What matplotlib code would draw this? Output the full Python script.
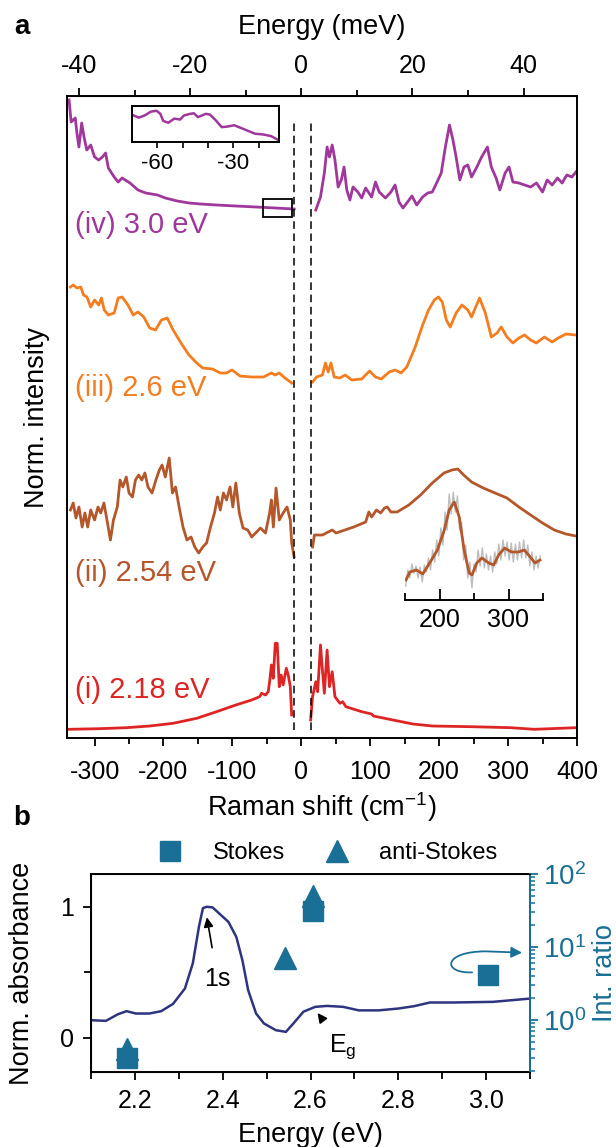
import numpy as np
import matplotlib
matplotlib.use("Agg")
from matplotlib import pyplot as plt
from matplotlib.lines import Line2D
from matplotlib.patches import Rectangle, FancyArrowPatch
from matplotlib.path import Path
from matplotlib.ticker import MultipleLocator, FixedLocator, LogLocator, NullFormatter

plt.rcParams['font.family'] = ['Liberation Sans', 'DejaVu Sans']
plt.rcParams['mathtext.fontset'] = 'custom'
plt.rcParams['mathtext.rm'] = 'Liberation Sans'
plt.rcParams['axes.unicode_minus'] = False

# ---- panel a data (Raman shift in cm-1, stacked norm. intensity) ----
# (iv) 3.0 eV
iv_as_x = [-337, -334, -328, -325.6, -322.7, -318.7, -315.3, -311.3, -305.6, -300, -294, -288.6, -284, -280,
           -271.5, -265.8, -260, -248.6, -237, -225.8, -208.7, -197.3, -180, -163, -146, -123, -95, -66, -38, -10.4]
iv_as_y = [6.38, 6.16, 6.2, 6.05, 5.91, 6.15, 6.01, 5.88, 5.93, 5.81, 5.78, 5.81, 5.85, 5.70,
           5.61, 5.56, 5.6, 5.55, 5.48, 5.45, 5.43, 5.40, 5.37, 5.35, 5.34, 5.33, 5.32, 5.31, 5.30, 5.29]
iv_s_x = [21, 27.8, 33.4, 37.4, 40.8, 44.8, 48.8, 53.4, 58, 62, 66, 70.5, 75, 82, 87.6, 93.3, 102, 107.6, 113,
          122, 130, 136, 141.8, 147.5, 153, 160.5, 167.4, 176, 183.4, 190, 197, 203, 209, 215, 220, 224.6, 230,
          236, 241.6, 247, 254.7, 261.6, 270, 275.7, 282.6, 288, 295.7, 301.4, 307, 315.7, 324, 332.7, 341.2,
          350, 356.7, 364, 371.6, 378.4, 385.2, 392.6, 398.4]
iv_s_y = [5.28, 5.41, 5.65, 5.91, 5.81, 5.93, 5.78, 5.51, 5.58, 5.71, 5.48, 5.38, 5.51, 5.46, 5.40, 5.50, 5.41,
          5.56, 5.46, 5.40, 5.46, 5.53, 5.36, 5.30, 5.35, 5.42, 5.33, 5.41, 5.45, 5.46, 5.56, 5.65, 5.91, 6.13,
          5.98, 5.81, 5.58, 5.71, 5.73, 5.61, 5.71, 5.81, 5.91, 5.71, 5.60, 5.48, 5.65, 5.71, 5.56, 5.55, 5.53,
          5.51, 5.55, 5.46, 5.58, 5.53, 5.60, 5.55, 5.63, 5.61, 5.66]

# (iii) 2.6 eV
iii_as_x = [-335, -331, -325.6, -320, -316, -311, -305.6, -300, -294, -290, -286, -280, -271.5, -265.8, -260,
            -251.5, -244, -237, -228.6, -220, -211.5, -203, -194.5, -186, -174.6, -163, -151.7, -143, -129,
            -117.6, -109, -100.5, -89, -72, -55, -43.5, -38, -32, -23.7, -14]
iii_as_y = [4.51, 4.53, 4.50, 4.51, 4.43, 4.41, 4.31, 4.38, 4.33, 4.40, 4.28, 4.23, 4.25, 4.40, 4.41,
            4.33, 4.23, 4.26, 4.21, 4.10, 4.08, 4.18, 4.20, 4.08, 3.95, 3.83, 3.75, 3.70, 3.69,
            3.65, 3.65, 3.68, 3.62, 3.61, 3.61, 3.65, 3.63, 3.65, 3.60, 3.55]
iii_s_x = [16.3, 22, 30.6, 35, 39, 43, 47.7, 56, 63.6, 73.3, 87.6, 99, 107.6, 116, 127.6, 136, 144.7, 153,
           164.7, 176, 184.6, 193, 199, 204.6, 210.4, 216, 224.6, 233, 241.6, 247, 253, 258.6, 267, 275.7,
           284, 290, 298.4, 307, 315.7, 324, 332.7, 341, 352.7, 364, 372.7, 384, 398.4]
iii_s_y = [3.56, 3.61, 3.63, 3.75, 3.66, 3.75, 3.61, 3.60, 3.63, 3.58, 3.59, 3.67, 3.61, 3.59, 3.66, 3.68,
           3.65, 3.71, 3.90, 4.13, 4.28, 4.38, 4.41, 4.36, 4.18, 4.11, 4.25, 4.33, 4.28, 4.21, 4.31, 4.40,
           4.25, 4.01, 4.05, 4.11, 4.01, 3.95, 4.00, 4.03, 3.98, 3.95, 4.01, 3.96, 4.00, 4.04, 4.03]

# (ii) 2.54 eV
ii_as_x = [-335, -331, -327, -322.7, -318, -314, -310, -305.6, -300, -295, -291, -286.4, -282, -277, -272.6,
           -267, -263, -259, -254, -250, -245, -240.7, -236, -231.5, -227, -222.5, -216.6, -211, -206, -202,
           -197.4, -191.7, -187, -182.5, -177.3, -171.7, -166, -160, -154.6, -148.9, -143, -137.5, -131.8,
           -126, -121.5, -117.6, -113, -108.5, -103.4, -99.4, -95, -90, -84.6, -77.7, -72, -65, -59.4, -52,
           -46, -43.5, -40.6, -36.7, -32, -26.4, -20.7, -16, -14, -10.4]
ii_as_y = [2.28, 2.35, 2.20, 2.31, 2.11, 2.25, 2.11, 2.28, 2.18, 2.31, 2.25, 2.35, 2.18, 1.98, 2.18,
           2.31, 2.58, 2.51, 2.61, 2.45, 2.41, 2.58, 2.63, 2.58, 2.65, 2.51, 2.45, 2.58, 2.68, 2.73,
           2.61, 2.80, 2.45, 2.51, 2.31, 2.11, 1.98, 2.01, 1.91, 1.85, 1.91, 1.95, 2.11,
           2.25, 2.41, 2.28, 2.45, 2.38, 2.51, 2.31, 2.55, 2.25, 2.10, 2.08, 2.01, 2.06, 2.10, 2.05,
           2.25, 2.38, 2.11, 2.50, 2.18, 2.25, 2.31, 2.18, 1.95, 1.81]
ii_s_x = [16.3, 19, 30.6, 39, 44.8, 50.5, 59, 76, 93.3, 98, 102, 109, 115, 120.7, 124.7, 130, 139, 156, 173,
          190, 207, 218.6, 227, 235.6, 247, 264, 281, 298.4, 315.7, 332.7, 350, 367, 384, 398.4]
ii_s_y = [1.91, 2.03, 2.03, 2.06, 2.08, 2.05, 2.07, 2.11, 2.16, 2.26, 2.21, 2.28, 2.25, 2.30, 2.31, 2.26,
          2.26, 2.33, 2.43, 2.55, 2.65, 2.68, 2.69, 2.63, 2.56, 2.50, 2.45, 2.40, 2.31, 2.23, 2.15, 2.08,
          2.04, 2.02]

# (i) 2.18 eV
i_as_x = [-337, -293.5, -254, -220, -186, -151.7, -123, -95, -72, -60.5, -57.7, -52, -48, -45.7, -43.4,
          -40.7, -37.8, -35, -32, -29.3, -26.4, -21.8, -19, -16, -14]
i_as_y = [0.087, 0.093, 0.103, 0.12, 0.147, 0.197, 0.263, 0.33, 0.38, 0.413, 0.447, 0.43, 0.463, 0.58, 0.73,
          0.597, 0.947, 0.947, 0.513, 0.63, 0.53, 0.697, 0.63, 0.513, 0.23]
i_s_x = [13.5, 16.3, 21, 23.7, 27.8, 30.6, 33.4, 37.4, 40.8, 44.8, 48.8, 56, 60, 64.7, 87.6, 102, 104.6, 133,
         161.7, 190, 247, 304, 338, 398.4]
i_s_y = [0.18, 0.413, 0.563, 0.463, 0.93, 0.68, 0.447, 0.88, 0.513, 0.663, 0.413, 0.347, 0.363, 0.313, 0.263,
         0.24, 0.22, 0.18, 0.14, 0.12, 0.113, 0.103, 0.087, 0.103]

# inset of (iv): low-energy anti-Stokes tail
ins_iv_x = [-69.3, -67.3, -65, -62.6, -60.3, -58.8, -57.7, -55.7, -53.3, -51, -49.5, -47.1, -45.6, -44, -42.4,
            -40.9, -39.3, -37, -34.6, -32.3, -29.7, -26.9, -23.8, -21.4, -18.4, -15.2, -12.9, -11.7]
ins_iv_y = [27, 24.7, 27, 31, 32, 28.7, 21.3, 19.3, 23.7, 22.7, 27, 28.7, 29.3, 25.3, 27, 28.7, 28, 22, 14.7,
            15.3, 16.7, 13.7, 10.3, 7.7, 7, 5.3, 2, 0.3]

# inset of (ii): raw (grey) and smoothed (brown)
ins_ii_raw_x = list(range(151, 347, 3))
ins_ii_raw_y = [14, 30, 22, 36, 27, 34, 22, 33, 18, 35, 28, 42, 30, 50, 38, 60, 44, 72, 55, 88, 70, 106, 86,
                108, 88, 104, 70, 78, 40, 55, 22, 38, 12, 36, 28, 50, 34, 52, 32, 46, 30, 44, 28, 48, 36,
                56, 40, 60, 44, 58, 40, 57, 38, 56, 40, 58, 42, 60, 42, 55, 34, 48, 30, 44, 32, 44]
ins_ii_fit_x = [151.4, 157, 166.7, 175.7, 185.7, 197, 207, 214, 221.4, 228.6, 235.7, 243, 247, 254, 261.4,
                271.4, 278.6, 285.7, 294.3, 304.3, 314.3, 323, 331.4, 338.6, 345.7]
ins_ii_fit_y = [20, 28, 30, 26, 37, 50, 70, 90, 98, 83, 50, 27, 25, 37, 42, 37, 35, 45, 52, 48, 48, 50, 43,
                37, 40]

labels_a = ['(iv) 3.0 eV', '(iii) 2.6 eV', '(ii) 2.54 eV', '(i) 2.18 eV']
label_y = [5.13, 3.50, 1.65, 0.48]
colors_a = ['#a0379b', '#f47d20', '#b4572a', '#dd2525']

# ---- panel b data ----
abs_e = [2.100, 2.134, 2.161, 2.181, 2.202, 2.233, 2.26, 2.287, 2.314, 2.332, 2.346, 2.355, 2.364, 2.377,
         2.395, 2.413, 2.431, 2.445, 2.458, 2.476, 2.494, 2.521, 2.544, 2.561, 2.584, 2.611, 2.638, 2.674,
         2.71, 2.755, 2.80, 2.836, 2.872, 2.926, 3.016, 3.10]
abs_v = [0.135, 0.13, 0.18, 0.204, 0.186, 0.186, 0.204, 0.26, 0.377, 0.57, 0.85, 0.99, 1.0, 0.995, 0.94,
         0.885, 0.77, 0.59, 0.364, 0.186, 0.11, 0.059, 0.046, 0.11, 0.20, 0.237, 0.244, 0.237, 0.21, 0.21,
         0.224, 0.242, 0.27, 0.27, 0.275, 0.30]
stokes_e = [2.181, 2.605, 3.004]
stokes_r = [0.30, 31, 4.2]
astokes_e = [2.181, 2.541, 2.605]
astokes_r = [0.40, 7.07, 50]

teal = '#1a6f96'
navy = '#2f347f'

W, H = 616, 1147
fig = plt.figure(figsize=(W / 100, H / 100), dpi=100)


def rect(l, t, r, b):
    return [l / W, 1 - b / H, (r - l) / W, (b - t) / H]


# ================= panel a =================
ax = fig.add_axes(rect(67, 96, 577, 738))
branches = [(iv_as_x, iv_as_y, iv_s_x, iv_s_y), (iii_as_x, iii_as_y, iii_s_x, iii_s_y),
            (ii_as_x, ii_as_y, ii_s_x, ii_s_y), (i_as_x, i_as_y, i_s_x, i_s_y)]
for (ax_x, ax_y, s_x, s_y), c, lab, ly in zip(branches, colors_a, labels_a, label_y):
    ax.plot(ax_x, ax_y, color=c, lw=2.0)
    ax.plot(s_x, s_y, color=c, lw=2.0)
    ax.text(-329, ly, lab, color=c, fontsize=21, ha='left', va='center')

for xv in (-10.5, 14.5):
    ax.axvline(xv, ymin=0.012, ymax=0.96, color='k', lw=1.1, ls=(0, (5, 3)))

ax.add_patch(Rectangle((-56, 5.21), 42, 0.18, fill=False, ec='k', lw=1.3, zorder=5))

ax.set_xlim(-340, 400)
ax.set_ylim(0, 6.42)
ax.set_yticks([])
ax.xaxis.set_major_locator(MultipleLocator(100))
ax.xaxis.set_minor_locator(MultipleLocator(50))
ax.tick_params(axis='x', which='major', direction='out', length=6, width=1.3, labelsize=18, pad=10)
ax.tick_params(axis='x', which='minor', direction='out', length=4, width=1.3)
for sp in ax.spines.values():
    sp.set_linewidth(1.4)
ax.set_xlabel('Raman shift (cm$^{-1}$)', fontsize=19.5, labelpad=4)
ax.set_ylabel('Norm. intensity', fontsize=19.5, labelpad=12)

cm_per_mev = 8.0655
top = ax.secondary_xaxis('top', functions=(lambda x: x / cm_per_mev, lambda e: e * cm_per_mev))
top.xaxis.set_major_locator(FixedLocator([-40, -20, 0, 20, 40]))
top.xaxis.set_minor_locator(FixedLocator([-30, -10, 10, 30]))
top.tick_params(axis='x', which='major', direction='out', length=6, width=1.3, labelsize=18, pad=7)
top.tick_params(axis='x', which='minor', direction='out', length=4, width=1.3)
top.set_xlabel('Energy (meV)', fontsize=19.5, labelpad=14)

# inset (iv)
ia = fig.add_axes(rect(132, 106, 279, 142))
ia.plot(ins_iv_x, ins_iv_y, color=colors_a[0], lw=1.8)
ia.set_xlim(-70, -12)
ia.set_ylim(-1, 37)
ia.set_yticks([])
ia.xaxis.set_major_locator(FixedLocator([-60, -30]))
ia.xaxis.set_minor_locator(FixedLocator([-50, -40, -20]))
ia.tick_params(axis='x', which='both', direction='out', length=4, width=1.2, labelsize=16, pad=4)
for sp in ia.spines.values():
    sp.set_linewidth(1.4)

# inset (ii)
ib = fig.add_axes(rect(405, 490, 543, 600))
ib.plot(ins_ii_raw_x, ins_ii_raw_y, color='#bdbdbd', lw=1.0)
ib.plot(ins_ii_fit_x, ins_ii_fit_y, color=colors_a[2], lw=2.0)
ib.set_xlim(150, 350)
ib.set_ylim(0, 110)
ib.set_yticks([])
ib.patch.set_alpha(0)
for s in ('top', 'left', 'right'):
    ib.spines[s].set_visible(False)
ib.spines['bottom'].set_linewidth(1.4)
ib.xaxis.set_major_locator(FixedLocator([200, 300]))
ib.xaxis.set_minor_locator(FixedLocator([150, 250, 350]))
ib.tick_params(axis='x', which='major', direction='in', length=8, width=1.3, labelsize=18, pad=6)
ib.tick_params(axis='x', which='minor', direction='in', length=5, width=1.3)

fig.text(22 / W, 1 - 27 / H, 'a', fontsize=20, fontweight='bold', ha='center', va='center')
fig.text(22 / W, 1 - 818 / H, 'b', fontsize=20, fontweight='bold', ha='center', va='center')

# ================= panel b =================
bx = fig.add_axes(rect(91, 874, 530, 1072))
bx.plot(abs_e, abs_v, color=navy, lw=1.8)
bx.set_xlim(2.1, 3.1)
bx.set_ylim(-0.26, 1.25)
bx.xaxis.set_major_locator(FixedLocator([2.2, 2.4, 2.6, 2.8, 3.0]))
bx.xaxis.set_minor_locator(FixedLocator([2.1, 2.3, 2.5, 2.7, 2.9, 3.1]))
bx.set_xticklabels(['2.2', '2.4', '2.6', '2.8', '3.0'])
bx.yaxis.set_major_locator(FixedLocator([0, 1]))
bx.yaxis.set_minor_locator(FixedLocator([0.5]))
bx.set_yticklabels(['0', '1'])
bx.tick_params(which='major', direction='out', length=6, width=1.3, labelsize=18, pad=6)
bx.tick_params(which='minor', direction='out', length=5, width=1.3)
for sp in bx.spines.values():
    sp.set_linewidth(1.4)
bx.set_xlabel('Energy (eV)', fontsize=19.5, labelpad=7)
bx.set_ylabel('Norm. absorbance', fontsize=19.5, labelpad=18)

bx.annotate('1s', xy=(2.364, 0.92), xytext=(2.388, 0.45), fontsize=18, ha='center', va='center',
            arrowprops=dict(arrowstyle='-|>', color='k', lw=1.2, shrinkA=12, shrinkB=0, mutation_scale=14))
bx.annotate('E$_\\mathrm{g}$', xy=(2.616, 0.19), xytext=(2.674, -0.07), fontsize=18, ha='center', va='center',
            arrowprops=dict(arrowstyle='-|>', color='k', lw=1.2, shrinkA=10, shrinkB=0, mutation_scale=14))

# curled arrow pointing to the right axis
curl = Path([(2.968, 0.50), (2.90, 0.49), (2.90, 0.66), (3.0, 0.66), (3.082, 0.65)],
            [Path.MOVETO, Path.CURVE4, Path.CURVE4, Path.CURVE4, Path.LINETO])
bx.add_patch(FancyArrowPatch(path=curl, arrowstyle='-|>', color=teal, lw=1.3, mutation_scale=16,
                             transform=bx.transData, clip_on=False))

rx = bx.twinx()
rx.set_yscale('log')
rx.set_ylim(0.194, 100)
rx.plot(stokes_e, stokes_r, ls='none', marker='s', ms=14, color=teal, mec=teal)
rx.plot(astokes_e, astokes_r, ls='none', marker='^', ms=16, color=teal, mec=teal)
rx.yaxis.set_major_locator(LogLocator(base=10, numticks=5))
rx.yaxis.set_minor_locator(LogLocator(base=10, subs=np.arange(2, 10), numticks=20))
rx.yaxis.set_minor_formatter(NullFormatter())
rx.tick_params(axis='y', which='major', direction='out', length=6, width=1.3, labelsize=20,
               colors=teal)
rx.tick_params(axis='y', which='minor', direction='out', length=3.5, width=1.1, colors=teal)
rx.spines['right'].set_color(teal)
rx.spines['right'].set_linewidth(1.4)
rx.set_ylabel('Int. ratio', fontsize=19.5, color=teal, labelpad=4)

handles = [Line2D([], [], ls='none', marker='s', ms=14, color=teal),
           Line2D([], [], ls='none', marker='^', ms=16, color=teal)]
fig.legend(handles, ['Stokes', 'anti-Stokes'], loc='center', bbox_to_anchor=(322 / W, 1 - 853 / H),
           ncol=2, frameon=False, fontsize=17, handletextpad=0.8, columnspacing=1.2, borderpad=0)

fig.savefig('out.png', dpi=100)
